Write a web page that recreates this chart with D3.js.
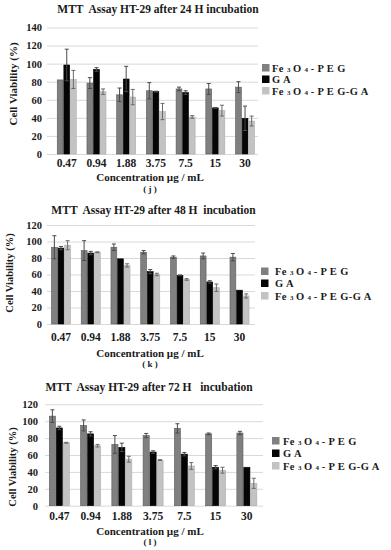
<!DOCTYPE html>
<html>
<head>
<meta charset="utf-8">
<script src="https://cdn.jsdelivr.net/npm/d3@7"></script>
<style>
  body { margin: 0; background: #fff; }
  svg text { white-space: pre; }
</style>
</head>
<body>
<script>
// concentrations (x categories) and series names
var concentrations = ["0.47", "0.94", "1.88", "3.75", "7.5", "15", "30"];
var seriesNames = ["Fe3O4-PEG", "GA", "Fe3O4-PEG-GA"];

// 24 H
var fe24 = [82, 78.5, 65.5, 70, 72, 72, 74];
var fe24Err = [0, 6, 7.5, 9, 2, 6, 6];
var ga24 = [98.5, 93.5, 83, 69, 68, 51, 39.5];
var ga24Err = [17.5, 2, 14, 0.5, 2, 0.5, 13.5];
var fega24 = [82.5, 69, 63, 47, 41, 48, 36.5];
var fega24Err = [10, 3, 8.5, 9, 1.5, 6, 5.5];

// 48 H
var fe48 = [93, 89, 93, 87, 81, 82.5, 81];
var fe48Err = [14, 12, 4, 2, 1.5, 3.5, 4.5];
var ga48 = [92, 86, 79, 63.5, 59, 51, 41];
var ga48Err = [2, 2, 0, 2.5, 0.5, 1.5, 0];
var fega48 = [95.5, 87, 71, 60, 54, 44, 34];
var fega48Err = [5.5, 0.5, 2, 1.5, 1, 4.5, 2.5];

// 72 H
var fe72 = [106, 95, 72.5, 83, 91.5, 85, 86];
var fe72Err = [7.5, 6.5, 10.5, 2.5, 5.5, 1, 2];
var ga72 = [92, 85, 69, 63.5, 61, 45.5, 45.5];
var ga72Err = [2, 2.5, 5, 1.5, 2, 2, 0];
var fega72 = [74.5, 71, 55, 54, 47, 42, 26.5];
var fega72Err = [0.5, 1.5, 3.5, 0.5, 4, 3.5, 6];

var yTicks140 = [0, 20, 40, 60, 80, 100, 120, 140];
var yTicks120 = [0, 20, 40, 60, 80, 100, 120];

var titles = [
  "MTT  Assay HT-29 after 24 H incubation",
  "MTT  Assay HT-29 after 48 H  incubation",
  "MTT  Assay HT-29 after 72 H   incubation"
];
var tags = ["( j )", "( k )", "( l )"];

var colors = ["#808080", "#050505", "#c3c3c3"];
var strokes = ["#5a5a5a", "#000", "#adadad"];
var serif = "'Liberation Serif', 'Times New Roman', serif";

var svg = d3.select("body").append("svg")
  .attr("width", 391)
  .attr("height", 550);

// small helper so every label gets the same bold serif face
function styleText(sel, size) {
  return sel
    .attr("font-family", serif)
    .attr("font-weight", "bold")
    .attr("fill", "#1a1a1a")
    .attr("font-size", size);
}

// layout of the three panels
var panels = [
  { vals: [fe24, ga24, fega24], errs: [fe24Err, ga24Err, fega24Err], ticks: yTicks140, ymax: 140,
    y0: 154, yTop: 27.5, xr: [51.9, 259.9], gx0: 47, gx1: 258, ytp: 5, xtp: 5,
    titleX: 158, titleY: 13, ylab: [13, 84], ylabSize: 11, concX: 150, concY: 181, tagY: 192,
    legX: 262, legTextX: 272, legY: [67.5, 79, 90.5] },
  { vals: [fe48, ga48, fega48], errs: [fe48Err, ga48Err, fega48Err], ticks: yTicks120, ymax: 120,
    y0: 324, yTop: 225, xr: [46.1, 254.4], gx0: 47, gx1: 255, ytp: 5, xtp: 9,
    titleX: 153.5, titleY: 214, ylab: [9, 273], ylabSize: 10.5, concX: 150, concY: 357, tagY: 367,
    legX: 261, legTextX: 275, legY: [271, 283, 295.5] },
  { vals: [fe72, ga72, fega72], errs: [fe72Err, ga72Err, fega72Err], ticks: yTicks120, ymax: 120,
    y0: 505.7, yTop: 404.3, xr: [43.7, 262.5], gx0: 45, gx1: 263, ytp: 7, xtp: 6.5,
    titleX: 149, titleY: 391, ylab: [12, 467], ylabSize: 10.5, concX: 150, concY: 534.5, tagY: 545,
    legX: 272, legTextX: 283, legY: [440.5, 453, 465.5] }
];

panels.forEach(function(p, pi) {
  var x = d3.scaleBand()
    .domain(concentrations)
    .range(p.xr)
    .paddingInner(0.36)
    .paddingOuter(0.18);

  var xs = d3.scaleBand()
    .domain(d3.range(seriesNames.length))
    .range([0, x.bandwidth()])
    .paddingInner(0.12);

  var y = d3.scaleLinear()
    .domain([0, p.ymax])
    .range([p.y0, p.yTop]);

  // title
  styleText(svg.append("text"), 11.5)
    .attr("x", p.titleX)
    .attr("y", p.titleY)
    .attr("text-anchor", "middle")
    .text(titles[pi]);

  // y axis + gridlines
  var gy = svg.append("g")
    .attr("transform", "translate(" + p.gx0 + ",0)")
    .call(d3.axisLeft(y)
      .tickValues(p.ticks)
      .tickSizeInner(-(p.gx1 - p.gx0))
      .tickSizeOuter(0)
      .tickPadding(p.ytp));
  gy.select(".domain").remove();
  gy.selectAll(".tick line").attr("stroke", "#d9d9d9").attr("stroke-width", 1);
  styleText(gy.selectAll(".tick text"), 10.5);

  // x axis labels
  var gx = svg.append("g")
    .attr("transform", "translate(0," + p.y0 + ")")
    .call(d3.axisBottom(x).tickSize(0).tickPadding(p.xtp));
  gx.select(".domain").remove();
  styleText(gx.selectAll(".tick text"), 11.5);

  // bars
  var groups = svg.selectAll(null)
    .data(concentrations)
    .enter()
    .append("g")
    .attr("transform", function(d) { return "translate(" + x(d) + ",0)"; });

  groups.selectAll("rect")
    .data(function(d, i) {
      return p.vals.map(function(s, k) { return { k: k, v: s[i], e: p.errs[k][i] }; });
    })
    .enter()
    .append("rect")
    .attr("x", function(d) { return xs(d.k); })
    .attr("y", function(d) { return y(d.v); })
    .attr("width", xs.bandwidth())
    .attr("height", function(d) { return y(0) - y(d.v); })
    .attr("fill", function(d) { return colors[d.k]; })
    .attr("stroke", function(d) { return strokes[d.k]; })
    .attr("stroke-width", 0.6);

  // error bars
  var eb = groups.selectAll("g.err")
    .data(function(d, i) {
      return p.vals.map(function(s, k) { return { k: k, v: s[i], e: p.errs[k][i] }; })
        .filter(function(d) { return d.e > 0; });
    })
    .enter()
    .append("g")
    .attr("class", "err")
    .attr("stroke", function(d) { return d.k === 2 ? "#6a6a6a" : "#4a4a4a"; })
    .attr("stroke-width", 1);

  eb.append("line")
    .attr("x1", function(d) { return xs(d.k) + xs.bandwidth() / 2; })
    .attr("x2", function(d) { return xs(d.k) + xs.bandwidth() / 2; })
    .attr("y1", function(d) { return y(d.v - d.e); })
    .attr("y2", function(d) { return y(d.v + d.e); });

  [1, -1].forEach(function(sign) {
    eb.append("line")
      .attr("x1", function(d) { return xs(d.k) + xs.bandwidth() / 2 - 2; })
      .attr("x2", function(d) { return xs(d.k) + xs.bandwidth() / 2 + 2; })
      .attr("y1", function(d) { return y(d.v + sign * d.e); })
      .attr("y2", function(d) { return y(d.v + sign * d.e); });
  });

  // y label
  styleText(svg.append("text"), p.ylabSize)
    .attr("transform", "translate(" + p.ylab[0] + "," + p.ylab[1] + ") rotate(-90)")
    .attr("text-anchor", "middle")
    .attr("dy", "0.35em")
    .text("Cell Viability (%)");

  // x title + panel tag
  styleText(svg.append("text"), 11)
    .attr("x", p.concX)
    .attr("y", p.concY)
    .attr("text-anchor", "middle")
    .text("Concentration \u00b5g / mL");

  styleText(svg.append("text"), 9)
    .attr("x", p.concX)
    .attr("y", p.tagY)
    .attr("text-anchor", "middle")
    .text(tags[pi]);

  // legend
  var leg = svg.selectAll(null)
    .data(seriesNames)
    .enter()
    .append("g")
    .attr("transform", function(d, i) { return "translate(0," + p.legY[i] + ")"; });

  leg.append("rect")
    .attr("x", p.legX)
    .attr("y", -3.5)
    .attr("width", 7.5)
    .attr("height", 7.5)
    .attr("fill", function(d, i) { return colors[i]; });

  var lt = styleText(leg.append("text"), 10.5)
    .attr("x", p.legTextX)
    .attr("y", 4)
    .attr("letter-spacing", 0.4);

  lt.each(function(d, i) {
    var t = d3.select(this);
    if (i === 1) {
      t.text("G A");
      return;
    }
    t.append("tspan").text("Fe ");
    t.append("tspan").attr("font-size", 7).text("3 ");
    t.append("tspan").text("O ");
    t.append("tspan").attr("font-size", 7).text("4 ");
    t.append("tspan").text(i === 0 ? "- P E G" : "- P E G-G A");
  });
});
</script>
</body>
</html>
